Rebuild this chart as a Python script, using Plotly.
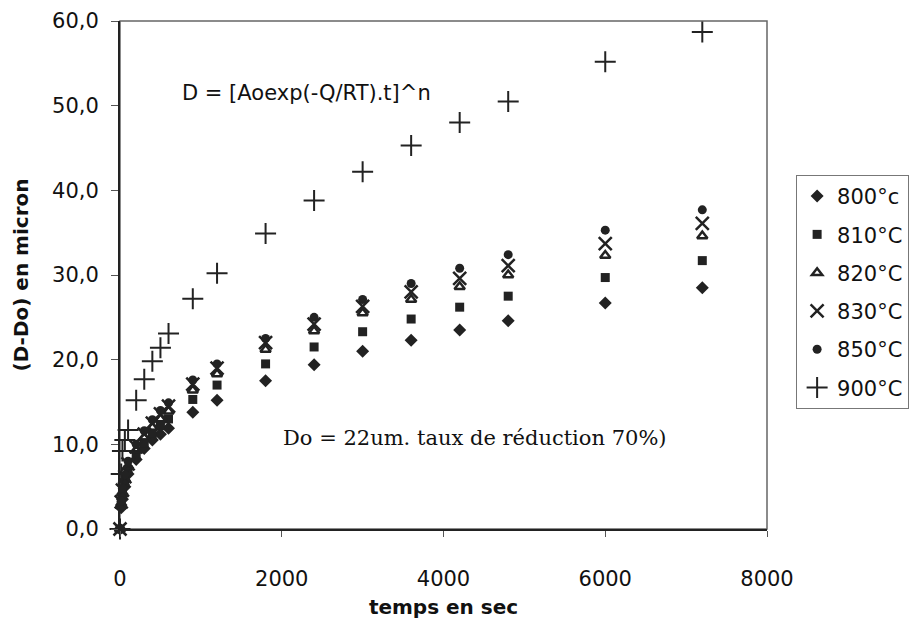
import plotly.graph_objects as go

times = [0, 15, 30, 60, 100, 200, 300, 400, 500, 600, 900, 1200, 1800, 2400, 3000, 3600, 4200, 4800, 6000, 7200]

d800 = [0, 2.5, 3.5, 5.0, 6.5, 8.2, 9.5, 10.5, 11.2, 11.9, 13.8, 15.2, 17.5, 19.4, 21.0, 22.3, 23.5, 24.6, 26.7, 28.5]
d810 = [0, 2.8, 4.0, 5.5, 7.0, 8.8, 10.2, 11.3, 12.2, 13.0, 15.3, 17.0, 19.5, 21.5, 23.3, 24.8, 26.2, 27.5, 29.7, 31.7]
d820 = [0, 3.0, 4.3, 5.9, 7.4, 9.3, 10.8, 12.0, 13.0, 13.9, 16.4, 18.3, 21.2, 23.4, 25.5, 27.1, 28.6, 30.0, 32.3, 34.6]
d830 = [0, 3.2, 4.6, 6.2, 7.7, 9.7, 11.2, 12.5, 13.6, 14.5, 17.1, 19.0, 22.0, 24.2, 26.3, 28.0, 29.6, 31.1, 33.7, 36.1]
d850 = [0, 3.3, 4.8, 6.4, 8.0, 10.0, 11.6, 12.9, 14.0, 14.9, 17.6, 19.5, 22.5, 25.0, 27.1, 29.0, 30.8, 32.4, 35.3, 37.7]
d900 = [0, 6.5, 9.2, 10.5, 11.7, 15.2, 17.7, 19.8, 21.4, 23.1, 27.2, 30.2, 34.9, 38.8, 42.2, 45.3, 48.0, 50.5, 55.2, 58.7]

names = ["800°c", "810°C", "820°C", "830°C", "850°C", "900°C"]
y_ticks = [0, 10, 20, 30, 40, 50, 60]
x_ticks = [0, 2000, 4000, 6000, 8000]

ink = "#222222"
styles = [
    dict(symbol="diamond", size=10, color=ink),
    dict(symbol="square", size=9, color=ink),
    dict(symbol="triangle-up-open", size=9, color=ink, line=dict(color=ink, width=2.5)),
    dict(symbol="x-thin-open", size=13, color=ink, line=dict(color=ink, width=2.5)),
    dict(symbol="circle", size=9, color=ink),
    dict(symbol="cross-thin-open", size=15, color=ink, line=dict(color=ink, width=2)),
]
series = [d800, d810, d820, d830, d850, d900]

fig = go.Figure()
for i, (nm, ys, st) in enumerate(zip(names, series, styles)):
    fig.add_trace(go.Scatter(x=times, y=ys, mode="markers", name=nm, marker=st,
                             legendgroup="g%d" % i, cliponaxis=False))

font = "DejaVu Sans, Arial, sans-serif"
fig.update_layout(
    width=913, height=620,
    margin=dict(l=112, r=151, t=13, b=99),
    paper_bgcolor="white", plot_bgcolor="white",
    separators=", ",
    font=dict(family=font, size=21, color="#111"),
    showlegend=True,
    legend=dict(x=1.045, y=0.697, xanchor="left", yanchor="top",
                bordercolor="#777", borderwidth=1, bgcolor="white",
                font=dict(family=font, size=21, color="#111"),
                itemsizing="trace", tracegroupgap=8, itemwidth=30),
    xaxis=dict(range=[0, 8000], tickvals=x_ticks, tickformat="d", showgrid=False, zeroline=False,
               automargin=False,
               showline=True, linecolor="#222", linewidth=2, ticks="outside", ticklen=6,
               tickcolor="#555", tickfont=dict(size=21), ticklabelstandoff=24,
               title=dict(text="<b>temps en sec</b>", font=dict(size=20), standoff=10)),
    yaxis=dict(range=[0, 60], tickvals=y_ticks, tickformat=".1f", showgrid=False, zeroline=False,
               automargin=False,
               showline=True, linecolor="#222", linewidth=2, ticks="outside", ticklen=7,
               tickcolor="#555", tickfont=dict(size=21), ticklabelstandoff=8,
               title=dict(text="<b>(D-Do) en micron</b>", font=dict(size=20), standoff=18)),
    shapes=[dict(type="rect", xref="paper", yref="paper", x0=0, x1=1, y0=0, y1=1,
                 line=dict(color="#666", width=1.5), layer="below")],
    annotations=[
        dict(text="D = [Aoexp(-Q/RT).t]^n", xref="paper", yref="paper", x=0.092, y=0.859,
             xanchor="left", yanchor="middle", showarrow=False, font=dict(family=font, size=21, color="#111")),
        dict(text="Do = 22um. taux de réduction 70%)", xref="paper", yref="paper", x=0.249, y=0.179,
             xanchor="left", yanchor="middle", showarrow=False,
             font=dict(family="DejaVu Serif, Liberation Serif, serif", size=21, color="#111")),
    ],
)

fig.write_html("out.html")
